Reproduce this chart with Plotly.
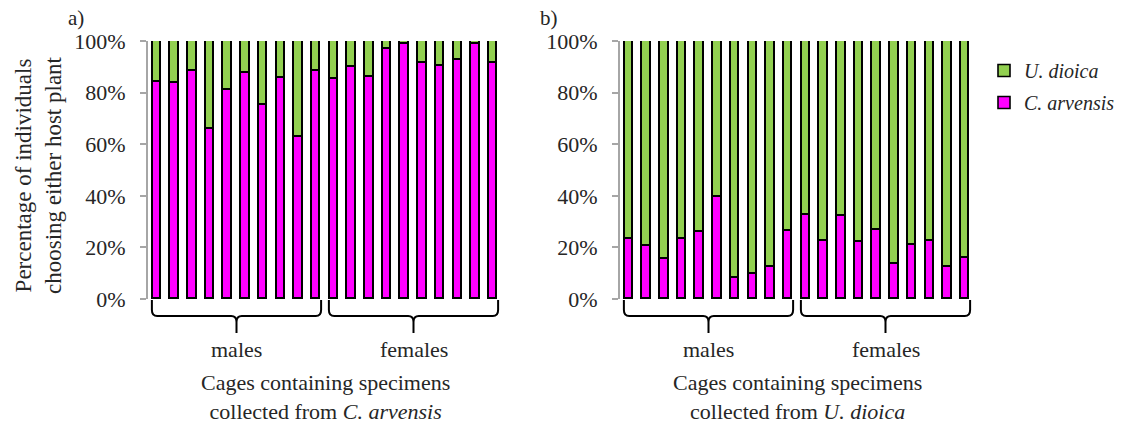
import plotly.graph_objects as go

# Cage groups (10 male cages, 10 female cages per panel)
cages = list(range(20))
groups = ["males", "females"]
group_first = [0, 10]
group_last = [9, 19]

# Panel a: specimens collected from C. arvensis (% choosing each plant)
a_arvensis = [84.1, 83.9, 88.4, 65.8, 80.9, 87.5, 75.2, 85.7, 62.8, 88.4,
              85.4, 89.9, 86.2, 96.8, 98.7, 91.4, 90.5, 92.5, 98.7, 91.6]
a_dioica = [15.9, 16.1, 11.6, 34.2, 19.1, 12.5, 24.8, 14.3, 37.2, 11.6,
            14.6, 10.1, 13.8, 3.2, 1.3, 8.6, 9.5, 7.5, 1.3, 8.4]

# Panel b: specimens collected from U. dioica
b_arvensis = [23.3, 20.4, 15.5, 23.3, 26.1, 39.5, 8.2, 9.7, 12.4, 26.4,
              32.4, 22.4, 32.1, 22.0, 26.9, 13.6, 21.0, 22.6, 12.4, 15.7]
b_dioica = [76.7, 79.6, 84.5, 76.7, 73.9, 60.5, 91.8, 90.3, 87.6, 73.6,
            67.6, 77.6, 67.9, 78.0, 73.1, 86.4, 79.0, 77.4, 87.6, 84.3]

y_ticks = [0, 20, 40, 60, 80, 100]
y_ticklabels = ["0%", "20%", "40%", "60%", "80%", "100%"]

GREEN = "#92d050"
MAGENTA = "#ff00ff"
TEXT = "#262626"
AXIS = "#a6a6a6"
FONT = "Liberation Serif"

W, H = 1124, 426
ydom = [1 - 299 / H, 1 - 41 / H]
xdom_a = [148 / W, 502 / W]
xdom_b = [620 / W, 974 / W]

fig = go.Figure()

panels = [("x", "y", a_arvensis, a_dioica, True),
          ("x2", "y2", b_arvensis, b_dioica, False)]
for xr, yr, arv, dio, show in panels:
    fig.add_trace(go.Bar(
        x=cages, y=arv, xaxis=xr, yaxis=yr, name="C. arvensis",
        marker=dict(color=MAGENTA, line=dict(color="black", width=1.6)),
        width=0.48, showlegend=show, legendgroup="arv", legendrank=2))
    fig.add_trace(go.Bar(
        x=cages, y=dio, xaxis=xr, yaxis=yr, name="U. dioica",
        marker=dict(color=GREEN, line=dict(color="black", width=1.6)),
        width=0.48, showlegend=show, legendgroup="dio", legendrank=1))

xax = dict(range=[-0.5, 19.5], showticklabels=False, ticks="", showline=False,
           showgrid=False, zeroline=False, fixedrange=True, automargin=False)
yax = dict(range=[0, 100], tickvals=y_ticks, ticktext=y_ticklabels,
           ticks="outside", ticklen=6, tickwidth=2, tickcolor=AXIS,
           showline=True, linecolor=AXIS, linewidth=2, showgrid=False,
           zeroline=False, ticklabelstandoff=10, automargin=False,
           tickfont=dict(family=FONT, size=22, color=TEXT), domain=ydom)

fig.update_layout(
    autosize=False,
    font=dict(family=FONT, color=TEXT),
    width=W, height=H, margin=dict(l=0, r=0, t=0, b=0, pad=0, autoexpand=False),
    paper_bgcolor="white", plot_bgcolor="white",
    barmode="stack", bargap=0,
    xaxis=dict(xax, domain=xdom_a, anchor="y"),
    yaxis=dict(yax, anchor="x"),
    xaxis2=dict(xax, domain=xdom_b, anchor="y2"),
    yaxis2=dict(yax, anchor="x2"),
    legend=dict(x=984 / W, y=1 - 51 / H, xanchor="left", yanchor="top",
                font=dict(family=FONT, size=20, color=TEXT, style="italic"),
                tracegroupgap=3, bgcolor="rgba(0,0,0,0)", borderwidth=0),
    showlegend=True,
)

# Curly braces under each cage group
y_top = 1 - 300 / H
y_mid = 1 - 316 / H
y_tip = 1 - 333 / H
ry = 6 / H
rx = 0.3
pad = 0.28
for xr in ["x", "x2"]:
    for g, first, last in zip(groups, group_first, group_last):
        x0 = first - pad
        x1 = last + pad
        xc = (x0 + x1) / 2
        path = (f"M{x0},{y_top} L{x0},{y_mid + ry} Q{x0},{y_mid} {x0 + rx},{y_mid} "
                f"L{xc - rx},{y_mid} Q{xc},{y_mid} {xc},{y_mid - ry} L{xc},{y_tip} "
                f"M{xc},{y_mid - ry} Q{xc},{y_mid} {xc + rx},{y_mid} "
                f"L{x1 - rx},{y_mid} Q{x1},{y_mid} {x1},{y_mid + ry} L{x1},{y_top}")
        fig.add_shape(type="path", path=path, xref=xr, yref="paper",
                      line=dict(color="black", width=2))
        fig.add_annotation(x=xc, y=1 - 349 / H, xref=xr, yref="paper",
                           text=g, showarrow=False, xanchor="center", yanchor="middle",
                           font=dict(family=FONT, size=22, color=TEXT))

titles = [("x", "Cages containing specimens<br>collected from <i>C. arvensis</i>"),
          ("x2", "Cages containing specimens<br>collected from <i>U. dioica</i>")]
for xr, t in titles:
    fig.add_annotation(x=9.5, y=1 - 397 / H, xref=xr, yref="paper", text=t,
                       showarrow=False, xanchor="center", yanchor="middle",
                       font=dict(family=FONT, size=22, color=TEXT))

fig.add_annotation(x=38 / W, y=1 - 175 / H, xref="paper", yref="paper",
                   text="Percentage of individuals<br>choosing either host plant",
                   textangle=-90, showarrow=False, xanchor="center", yanchor="middle",
                   font=dict(family=FONT, size=23, color=TEXT))

for label, px in [("a)", 76), ("b)", 549)]:
    fig.add_annotation(x=px / W, y=1 - 18 / H, xref="paper", yref="paper",
                       text=label, showarrow=False, xanchor="center", yanchor="middle",
                       font=dict(family=FONT, size=21, color=TEXT))

fig.write_html("out.html")
